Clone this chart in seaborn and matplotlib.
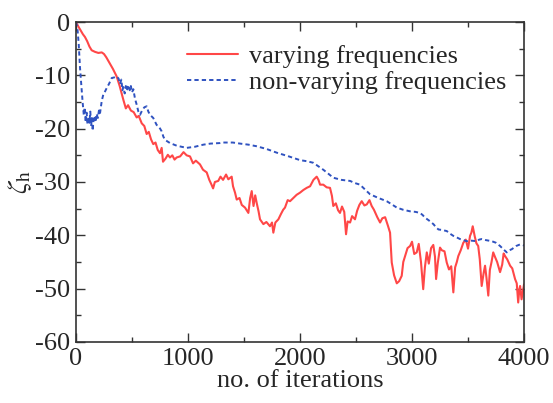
import numpy as np
import pandas as pd
import seaborn as sns
import matplotlib
matplotlib.use("Agg")
import matplotlib.pyplot as plt
from matplotlib.ticker import MultipleLocator

# ==========================================
# DATA
# ==========================================
LABEL_VAR = "varying frequencies"
LABEL_NONVAR = "non-varying frequencies"

var_x = [0, 20, 40, 62, 80, 100, 120, 140, 170, 200, 230, 250, 270, 300, 330, 363,
         390, 423, 445, 465, 490, 515, 542, 560, 587, 610, 631, 650, 670, 690, 710,
         730, 750, 765, 777, 800, 820, 839, 860, 880, 899, 930, 960, 988, 1018, 1045,
         1070, 1107, 1134, 1167, 1190, 1210, 1224, 1240, 1270, 1290, 1313, 1340, 1360,
         1390, 1402, 1420, 1435, 1460, 1480, 1509, 1539, 1555, 1569, 1585, 1600, 1613,
         1630, 1643, 1673, 1700, 1732, 1750, 1762, 1780, 1807, 1830, 1850, 1866, 1890,
         1911, 1940, 1970, 2000, 2030, 2060, 2090, 2120, 2149, 2165, 2179, 2208, 2238,
         2268, 2285, 2297, 2320, 2340, 2357, 2375, 2395, 2411, 2425, 2447, 2465, 2491,
         2510, 2530, 2551, 2575, 2596, 2620, 2640, 2660, 2690, 2715, 2735, 2760, 2785,
         2804, 2812, 2819, 2840, 2864, 2885, 2908, 2922, 2938, 2960, 2983, 3000, 3020,
         3042, 3060, 3080, 3100, 3115, 3132, 3150, 3170, 3190, 3205, 3215, 3230, 3250,
         3266, 3290, 3310, 3330, 3350, 3369, 3385, 3400, 3413, 3435, 3458, 3480, 3500,
         3518, 3530, 3542, 3560, 3575, 3591, 3605, 3622, 3640, 3652, 3665, 3681, 3695,
         3710, 3725, 3740, 3760, 3786, 3805, 3818, 3831, 3850, 3876, 3895, 3920, 3935,
         3948, 3958, 3965, 3978, 3988, 4000]
var_y = [0, -0.8, -1.5, -2.3, -2.8, -3.6, -4.6, -5.3, -5.6, -5.8, -5.7, -6.0, -6.6,
         -7.7, -8.8, -10.2, -12.0, -14.6, -16.2, -15.6, -16.6, -16.9, -17.9, -17.6,
         -19.0, -19.5, -21.0, -20.6, -22.0, -22.9, -22.6, -24.0, -24.6, -23.6, -26.2,
         -25.6, -24.9, -25.4, -25.0, -25.8, -25.4, -25.2, -24.4, -25.0, -25.2, -26.5,
         -26.0, -26.7, -27.7, -28.2, -29.6, -30.5, -31.2, -30.0, -29.8, -29.0, -29.6,
         -28.6, -29.5, -29.0, -30.8, -32.0, -33.3, -33.0, -34.3, -34.8, -35.8, -33.0,
         -31.7, -34.5, -32.5, -33.9, -35.5, -37.0, -37.9, -37.5, -38.3, -37.6, -39.5,
         -37.6, -37.0, -36.0, -35.2, -34.8, -33.4, -33.6, -33.0, -32.4, -32.0, -31.5,
         -31.1, -30.8, -29.6, -29.0, -29.6, -30.5, -30.5, -31.0, -31.1, -32.6, -34.5,
         -34.0, -35.3, -35.8, -34.6, -35.6, -39.8, -37.4, -37.6, -36.4, -37.0, -35.4,
         -34.3, -33.6, -34.4, -34.2, -33.4, -34.5, -35.2, -36.6, -37.6, -36.8, -36.6,
         -38.2, -39.5, -42.5, -45.1, -47.5, -49.0, -48.6, -47.6, -45.0, -43.9, -42.4,
         -42.0, -41.2, -43.5, -43.2, -41.6, -45.0, -50.1, -46.0, -43.2, -45.3, -42.4,
         -41.8, -44.0, -48.2, -45.2, -42.3, -42.8, -43.0, -45.1, -46.4, -45.8, -50.7,
         -46.0, -45.0, -43.9, -42.8, -41.4, -40.8, -42.5, -40.1, -39.5, -38.3, -40.2,
         -41.5, -42.0, -44.5, -49.5, -47.0, -45.7, -48.0, -51.3, -46.5, -45.0, -43.2,
         -44.0, -45.0, -46.9, -45.5, -43.4, -43.9, -44.5, -45.7, -46.2, -48.2, -49.0,
         -52.6, -50.2, -49.5, -52.0, -50.7, -49.2]

nonvar_x = [0, 12, 24, 36, 50, 60, 70, 78, 86, 95, 103, 110, 120, 128, 135, 142, 149,
            157, 165, 175, 184, 195, 205, 214, 230, 244, 260, 274, 295, 319, 340, 363,
            380, 393, 405, 415, 423, 435, 445, 455, 467, 480, 490, 500, 512, 527, 542,
            557, 572, 590, 610, 631, 646, 661, 690, 720, 740, 765, 780,
            795, 839, 900, 988, 1060, 1137, 1200, 1286, 1313, 1400, 1465, 1540, 1613,
            1700, 1792, 1900, 2000, 2060, 2119, 2160, 2208, 2250, 2297, 2370, 2447,
            2490, 2536, 2580, 2625, 2700, 2774, 2820, 2864, 2920, 2983, 3030, 3072,
            3095, 3117, 3150, 3191, 3215, 3236, 3270, 3310, 3340, 3369, 3400, 3429,
            3460, 3488, 3530, 3578, 3600, 3622, 3660, 3712, 3750, 3786, 3815, 3846,
            3870, 3891, 3930, 3965, 4000]
nonvar_y = [0, -1.0, -4.0, -8.6, -12.5, -15.2, -17.5, -16.0, -18.8, -17.0, -19.2, -17.8,
            -18.9, -16.8, -19.5, -18.0, -20.4, -18.2, -17.6, -18.8, -17.2, -18.0, -16.6,
            -17.2, -14.8, -13.6, -13.0, -12.4, -11.6, -10.5, -10.4, -10.2,
            -10.6, -11.6, -10.8, -12.8, -12.2, -13.4, -12.0, -12.8, -11.8, -12.8, -12.0,
            -13.2, -12.6, -14.4, -15.5, -16.8, -17.4, -16.6, -16.0, -15.8, -16.8, -17.4,
            -18.0, -19.3, -19.6, -20.5, -21.5, -22.1, -22.7, -23.2, -23.6, -23.4, -23.0,
            -22.8, -22.7, -22.6, -22.6, -22.8, -23.0, -23.3, -23.8, -24.5, -25.2, -25.9,
            -26.1, -26.4, -27.0, -27.7, -28.4, -29.2, -29.6, -29.8, -30.2, -30.5, -31.4,
            -32.3, -33.0, -33.6, -34.2, -34.8, -35.2, -35.5, -35.6, -35.8, -36.2, -36.7,
            -37.2, -37.9, -38.5, -38.9, -39.0, -39.2, -39.7, -40.1, -40.4, -40.7, -40.9,
            -41.1, -41.0, -41.1, -40.8, -40.7, -40.9, -41.1, -41.4, -42.0, -42.6, -43.2,
            -42.8, -42.6, -42.0, -41.7, -41.9]

RED = "#ff4747"
BLUE = "#2f52c0"
OUTPUT_IMAGE = "out.png"
FS = 19


def make_plot():
    sns.set_theme(style="ticks")
    plt.rcParams["font.family"] = ["Liberation Serif", "DejaVu Serif"]
    plt.rcParams["mathtext.fontset"] = "stix"
    plt.rcParams["axes.unicode_minus"] = False

    df_var = pd.DataFrame({"iter": var_x, "zeta": var_y})
    df_non = pd.DataFrame({"iter": nonvar_x, "zeta": nonvar_y})

    fig = plt.figure(figsize=(5.53, 4.03), dpi=100)
    ax = fig.add_axes([0.1374, 0.1514, 0.8102, 0.794])

    sns.lineplot(data=df_var, x="iter", y="zeta", ax=ax, color=RED, lw=1.5,
                 estimator=None, sort=False, label=LABEL_VAR)
    sns.lineplot(data=df_non, x="iter", y="zeta", ax=ax, color=BLUE, lw=1.4,
                 estimator=None, sort=False, label=LABEL_NONVAR,
                 linestyle=(0, (2.2, 1.6)))

    ax.set_xlim(0, 4000)
    ax.set_ylim(-60, 0)
    ax.xaxis.set_major_locator(MultipleLocator(1000))
    ax.xaxis.set_minor_locator(MultipleLocator(500))
    ax.yaxis.set_major_locator(MultipleLocator(10))
    ax.yaxis.set_minor_locator(MultipleLocator(5))
    ax.tick_params(which="both", direction="in", top=True, right=True,
                   labelsize=FS, color="#333333", width=1.0)
    ax.tick_params(which="major", length=6.5, pad=4)
    ax.tick_params(which="minor", length=3.6)
    for sp in ax.spines.values():
        sp.set_visible(True)
        sp.set_linewidth(1.2)
        sp.set_color("#333333")

    ax.set_xlabel("no. of iterations", fontsize=FS, labelpad=0)
    ax.set_ylabel(r"$\zeta_{\mathrm{h}}$", fontsize=FS + 1, labelpad=1)

    ax.legend(loc="upper right", bbox_to_anchor=(0.99, 0.97), frameon=False,
              fontsize=FS, handlelength=1.95, handletextpad=0.4, labelspacing=0.08,
              borderaxespad=0.2, borderpad=0.3)

    fig.savefig(OUTPUT_IMAGE, dpi=100)


if __name__ == "__main__":
    make_plot()
